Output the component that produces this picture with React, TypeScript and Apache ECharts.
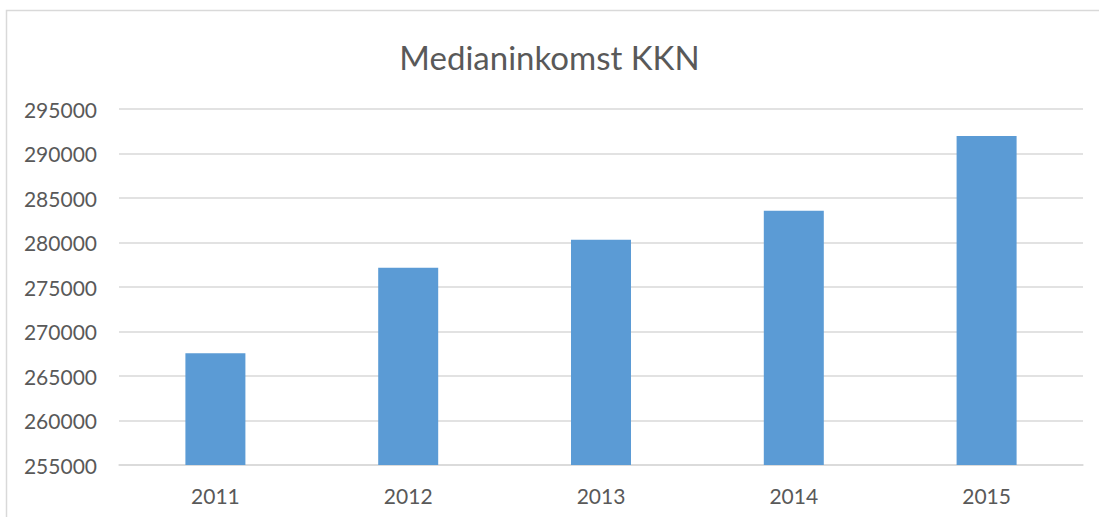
import React, { useEffect, useRef } from "react";
import * as echarts from "echarts";

const title = "Medianinkomst KKN";
const years = ["2011", "2012", "2013", "2014", "2015"];
const values = [267550, 277150, 280300, 283580, 291980];
const yMin = 255000;
const yMax = 295000;
const yStep = 5000;

export default function App() {
  const ref = useRef<HTMLDivElement>(null);
  useEffect(() => {
    if (!ref.current) return;
    const chart = echarts.init(ref.current, null, { renderer: "svg" });
    const font = "Lato, 'Open Sans', sans-serif";
    chart.setOption({
      animation: false,
      backgroundColor: "#ffffff",
      title: {
        text: title,
        left: "center",
        top: 35,
        textStyle: { fontFamily: font, fontSize: 33, fontWeight: "normal", color: "#595959" },
      },
      graphic: [
        {
          type: "rect",
          shape: { x: 6.5, y: 10.5, width: 1200, height: 700 },
          style: { fill: "none", stroke: "#d9d9d9", lineWidth: 1.5 },
          silent: true,
        },
      ],
      grid: { left: 119, right: 16, top: 109, bottom: 52, containLabel: false },
      xAxis: {
        type: "category",
        data: years,
        axisLine: { lineStyle: { color: "#d9d9d9", width: 1.5 } },
        axisTick: { show: false },
        axisLabel: { fontFamily: font, fontSize: 21, color: "#595959", margin: 20 },
      },
      yAxis: {
        type: "value",
        min: yMin,
        max: yMax,
        interval: yStep,
        axisLine: { show: false },
        axisTick: { show: false },
        splitLine: { lineStyle: { color: "#d9d9d9", width: 1.5 } },
        axisLabel: {
          fontFamily: font,
          fontSize: 21,
          color: "#595959",
          margin: 22,
          formatter: (v: number) => String(v),
        },
      },
      series: [
        {
          type: "bar",
          data: values,
          barWidth: 60,
          itemStyle: { color: "#5b9bd5" },
        },
      ],
    });
    return () => chart.dispose();
  }, []);
  return (
    <div
      ref={ref}
      style={{ position: "fixed", left: 0, top: 0, width: 1099, height: 517 }}
    />
  );
}
